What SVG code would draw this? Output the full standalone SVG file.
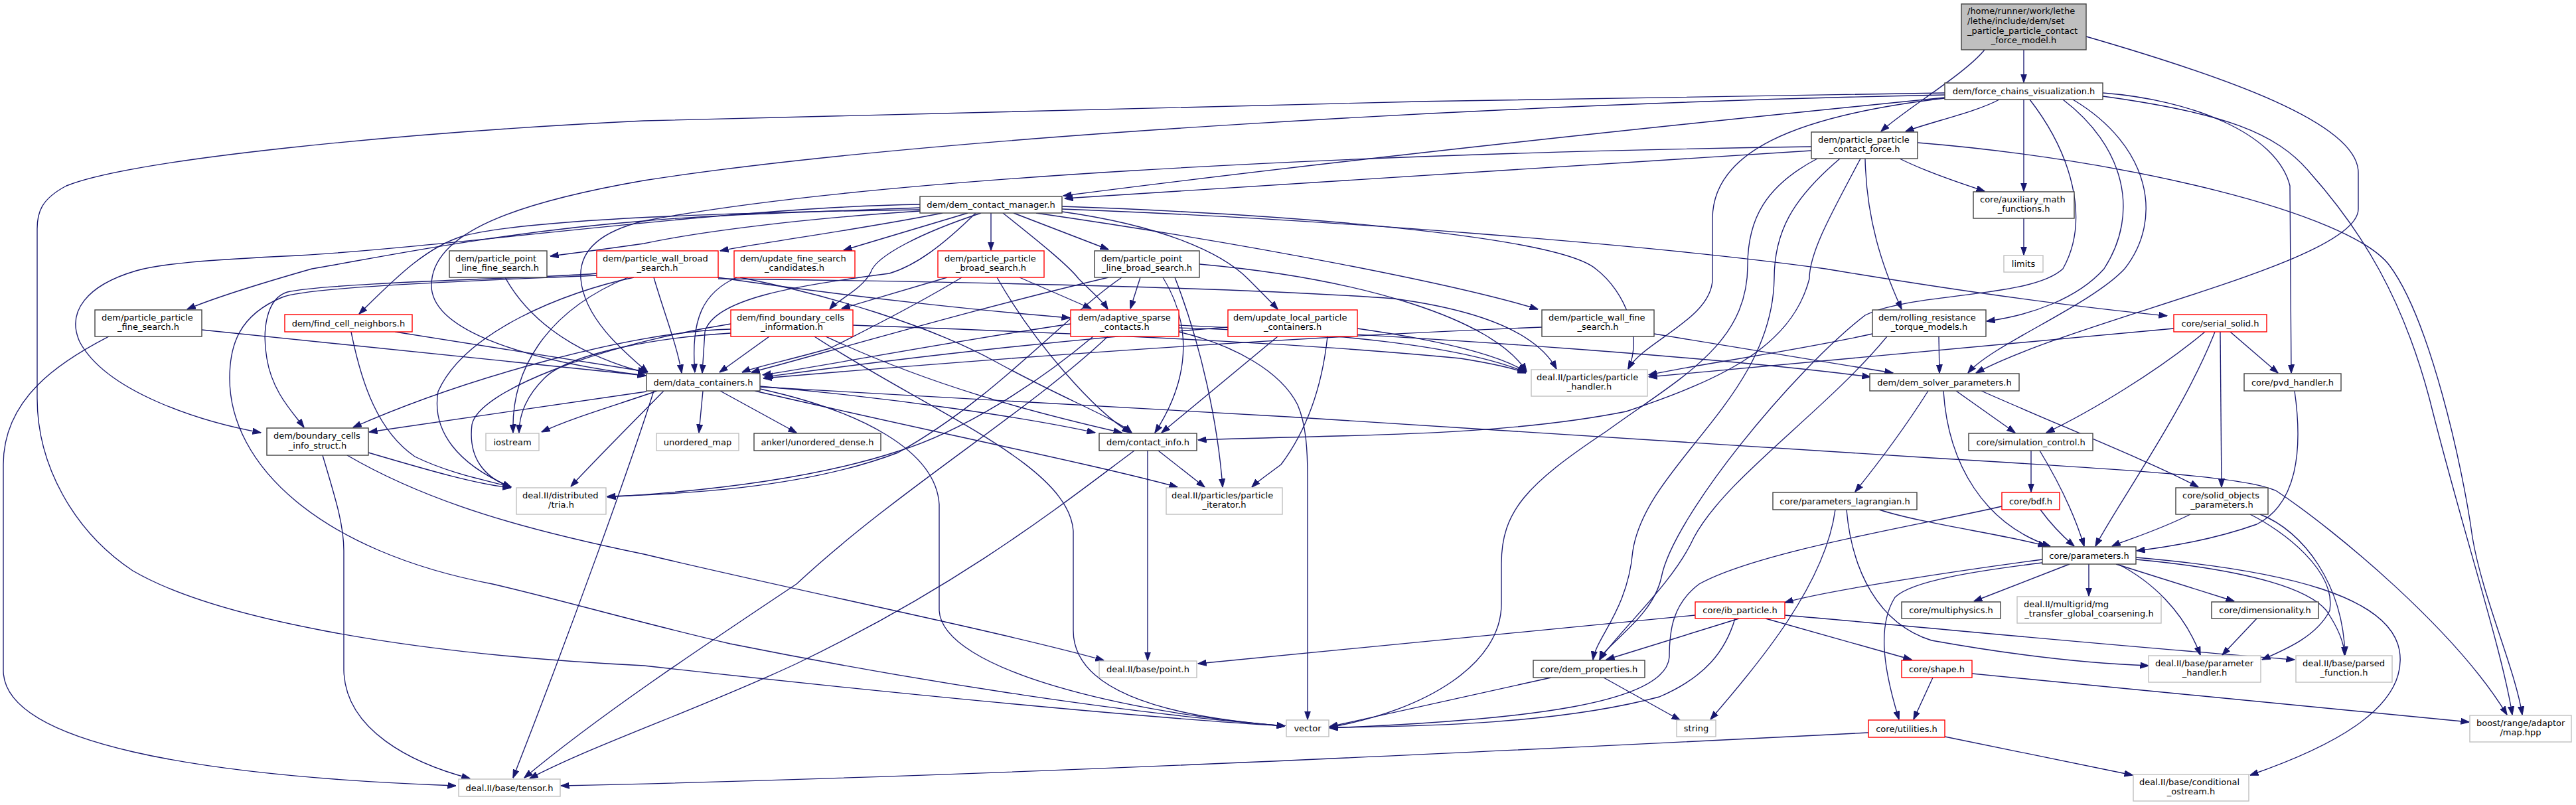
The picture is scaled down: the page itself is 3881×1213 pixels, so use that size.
<svg xmlns="http://www.w3.org/2000/svg" width="3881" height="1213" viewBox="0 0 3881 1213">
<style>
.n rect{fill:#fff;stroke:#404040;stroke-width:1.4}
.r rect{fill:#fff;stroke:#ff0000;stroke-width:1.4}
.g rect{fill:#fff;stroke:#bfbfbf;stroke-width:1.4}
text{font-family:"DejaVu Sans","Liberation Sans",sans-serif;font-size:13px;fill:#000}
.m{text-anchor:middle}
#edges path{fill:none;stroke:#191970;stroke-width:1.35;marker-end:url(#a)}
</style>
<defs>
<marker id="a" viewBox="0 0 13 10" refX="12.5" refY="5" markerWidth="13" markerHeight="10" markerUnits="userSpaceOnUse" orient="auto"><path d="M0,0.5 L13,5 L0,9.5 z" fill="#191970" stroke="#191970" stroke-width="1"/></marker>
</defs>
<rect width="3881" height="1213" fill="#fff"/>
<g id="edges">
<path d="M3049,75 L3049,124"/>
<path d="M2990,75 C2960,112 2870,165 2834,198"/>
<path d="M3143,55 C3350,115 3553,185 3553,260 L3553,315 C3553,395 3130,480 2977,562"/>
<path d="M3012,150 C2980,168 2905,185 2871,198"/>
<path d="M3049,150 L3049,288"/>
<path d="M2930,147 C2450,195 1950,250 1602,295"/>
<path d="M2930,140 C2300,148 1500,165 970,182 C600,200 200,240 100,280 C62,300 56,320 56,345 L56,600 C56,700 110,800 200,860 C320,930 600,985 970,1003 C1300,1040 1700,1080 1936,1094"/>
<path d="M2930,143 C2300,155 1400,205 970,272 C780,305 650,350 650,430 C650,500 800,545 973,566"/>
<path d="M2930,148 C2700,175 2580,230 2580,330 L2580,420 C2580,480 2475,515 2453,556"/>
<path d="M3108,150 C3200,220 3225,320 3170,405 C3130,450 3060,475 2993,484"/>
<path d="M3123,150 C3240,220 3260,330 3201,405 C3150,460 3000,520 2965,562"/>
<path d="M3058,150 C3120,230 3150,330 3108,405 C3060,450 2880,440 2810,475 C2700,560 2520,780 2503,870 C2490,930 2420,970 2410,994"/>
<path d="M3168,140 C3300,150 3430,200 3450,280 L3452,562"/>
<path d="M3168,145 C3350,170 3430,200 3480,260 C3560,350 3620,450 3660,600 C3710,800 3770,980 3785,1077"/>
<path d="M2729,227 C2300,255 1900,280 1604,299"/>
<path d="M2729,221 C2000,232 1300,270 970,333 C900,350 872,380 875,420 C880,480 940,530 976,561"/>
<path d="M2862,239 C2900,258 2950,275 2990,288"/>
<path d="M2810,239 C2812,330 2835,400 2865,466"/>
<path d="M2738,239 C2660,280 2633,330 2633,400 C2633,520 2530,570 2420,650 C2300,730 2262,770 2262,850 L2262,910 C2262,1000 2150,1070 2003,1096"/>
<path d="M2772,239 C2700,300 2673,350 2673,420 C2670,600 2480,700 2460,830 C2452,920 2405,960 2400,994"/>
<path d="M2803,239 C2760,320 2726,380 2726,420 C2700,520 2600,570 2450,620 C2250,660 2000,655 1805,663"/>
<path d="M2889,215 C3200,240 3540,320 3600,400 C3660,480 3710,700 3725,810 C3740,900 3790,1010 3800,1077"/>
<path d="M1386,318 C1200,330 1050,350 970,367 C900,377 860,382 829,386"/>
<path d="M1420,321 C1300,345 1150,365 1085,378"/>
<path d="M1458,321 L1271,377"/>
<path d="M1493,321 L1493,377"/>
<path d="M1527,321 L1670,376"/>
<path d="M1386,313 C1200,320 1050,325 970,333 C750,350 560,390 470,405 C400,425 320,450 282,466"/>
<path d="M1386,308 C1100,312 700,370 450,385 C300,392 240,398 205,408 C130,430 100,470 120,515 C160,590 300,635 393,652"/>
<path d="M1386,316 C1100,320 800,330 700,355 C640,372 590,425 541,473"/>
<path d="M1478,321 C1390,350 1320,385 1312,410 C1300,435 1262,452 1250,466"/>
<path d="M1470,321 C1420,370 1380,400 1340,412 C1200,430 1075,450 1062,500 L1058,562"/>
<path d="M1511,321 C1560,360 1610,400 1625,420 C1645,440 1660,452 1669,466"/>
<path d="M1600,319 C1750,340 1840,380 1880,420 C1900,440 1915,455 1925,466"/>
<path d="M1561,321 C1900,370 2200,430 2317,466"/>
<path d="M1600,311 C2000,325 2350,360 2404,405 C2450,440 2475,510 2453,556"/>
<path d="M1600,315 C2000,330 2500,370 2750,405 C2900,430 3100,460 3265,476"/>
<path d="M3049,329 L3049,384"/>
<path d="M761,418 C790,470 850,530 974,562"/>
<path d="M985,418 C1000,470 1020,520 1027,562"/>
<path d="M1081,418 C1300,450 1500,470 1612,479"/>
<path d="M1115,418 C1250,445 1400,490 1500,545 C1600,600 1680,630 1705,652"/>
<path d="M946,418 C820,470 770,560 773,652"/>
<path d="M899,412 C850,418 500,425 433,440 C400,450 395,500 402,540 C410,590 440,620 458,644"/>
<path d="M899,415 C800,420 470,430 425,448 C360,475 346,520 346,570 C346,700 480,830 742,880 C850,905 950,935 1100,970 C1400,1030 1700,1075 1936,1094"/>
<path d="M955,418 C850,440 700,500 660,590 C650,650 690,700 770,734"/>
<path d="M1082,420 C1500,425 1900,435 2100,450 C2250,470 2320,510 2345,556"/>
<path d="M1110,418 C1060,440 1040,480 1047,561"/>
<path d="M1427,418 L1268,465"/>
<path d="M1449,418 C1380,460 1300,500 1250,525 C1180,545 1140,552 1118,561"/>
<path d="M1536,418 L1644,465"/>
<path d="M1502,418 C1560,520 1650,620 1703,652"/>
<path d="M1718,418 L1703,465"/>
<path d="M1670,418 C1450,470 1250,530 1132,561"/>
<path d="M1752,418 C1790,480 1800,560 1740,652"/>
<path d="M1770,418 C1810,520 1835,640 1842,734"/>
<path d="M1690,418 C1600,480 1500,600 1353,682 C1200,740 1000,745 915,748"/>
<path d="M1807,398 C2050,420 2250,480 2300,560"/>
<path d="M304,497 L973,566"/>
<path d="M164,507 C90,545 5,600 5,700 L5,1010 C5,1120 300,1170 687,1184"/>
<path d="M595,500 L974,560"/>
<path d="M529,500 C545,580 570,650 625,688 C680,715 740,725 770,734"/>
<path d="M1101,496 C950,500 700,570 532,644"/>
<path d="M1101,502 C1000,508 860,530 820,570 C790,600 782,630 782,652"/>
<path d="M1101,488 C900,520 720,590 711,640 C705,690 730,720 770,734"/>
<path d="M1159,507 L1084,561"/>
<path d="M1244,507 C1400,580 1550,620 1690,652"/>
<path d="M1227,507 C1400,620 1610,700 1617,800 L1617,950 C1617,1040 1750,1080 1936,1094"/>
<path d="M1285,490 C1700,505 2000,520 2200,540 C2250,548 2280,555 2299,562"/>
<path d="M1613,488 C1400,520 1250,550 1149,565"/>
<path d="M1647,507 C1560,580 1450,650 1353,680 C1200,730 1000,744 915,749"/>
<path d="M1669,507 C1550,620 1350,740 1200,880 C1050,980 900,1080 790,1172"/>
<path d="M1776,490 C2200,510 2600,540 2818,568"/>
<path d="M1776,500 C1860,520 1930,560 1955,610 C1968,640 1970,680 1970,720 L1970,1084"/>
<path d="M1776,494 C2000,500 2200,520 2299,561"/>
<path d="M1850,493 C1500,520 1250,555 1152,568"/>
<path d="M1925,507 L1750,652"/>
<path d="M2045,495 C2150,510 2250,530 2299,560"/>
<path d="M2000,507 C1990,600 1960,660 1930,700 C1910,715 1895,725 1886,734"/>
<path d="M2323,493 C1900,510 1500,540 1150,570"/>
<path d="M2492,503 C2650,530 2780,550 2852,562"/>
<path d="M2921,507 L2922,562"/>
<path d="M2821,503 C2700,530 2550,550 2484,565"/>
<path d="M2843,507 C2750,620 2600,720 2552,810 C2520,880 2440,950 2410,994"/>
<path d="M3275,495 C3100,510 2800,540 2484,568"/>
<path d="M3322,500 C3250,560 3150,620 3083,652"/>
<path d="M3360,500 L3432,562"/>
<path d="M3345,500 L3347,734"/>
<path d="M3337,500 C3290,620 3190,760 3157,823"/>
<path d="M974,590 L556,651"/>
<path d="M990,589 C930,610 860,630 816,651"/>
<path d="M1059,589 L1053,652"/>
<path d="M1085,589 L1200,652"/>
<path d="M1145,582 C1350,600 1550,630 1650,652"/>
<path d="M1000,589 C950,640 900,690 860,733"/>
<path d="M985,589 C950,700 860,950 773,1172"/>
<path d="M1137,589 C1400,650 1650,700 1774,734"/>
<path d="M1145,586 C1300,620 1410,680 1415,760 L1415,920 C1420,1010 1700,1075 1936,1094"/>
<path d="M1145,583 L1940,628 L2910,690 C3250,710 3390,720 3430,740 C3520,800 3700,950 3777,1077"/>
<path d="M555,682 C650,710 720,730 770,735"/>
<path d="M486,686 C505,750 518,790 518,830 L518,1010 C520,1100 620,1150 708,1173"/>
<path d="M523,686 C650,760 800,800 970,835 C1200,890 1500,950 1663,995"/>
<path d="M1709,679 C1600,760 1450,880 1200,1000 C1050,1070 900,1120 798,1173"/>
<path d="M1729,679 L1729,995"/>
<path d="M1745,679 L1815,734"/>
<path d="M3060,679 L3060,741"/>
<path d="M3073,679 C3110,740 3130,790 3140,823"/>
<path d="M2947,589 L3036,652"/>
<path d="M2985,589 C3100,640 3250,700 3312,734"/>
<path d="M2905,589 C2860,660 2820,710 2795,741"/>
<path d="M2928,589 C2935,700 2990,790 3089,823"/>
<path d="M3074,768 C3090,790 3110,810 3125,823"/>
<path d="M3016,763 C2900,790 2650,830 2560,880 C2520,910 2515,950 2515,990 C2510,1060 2300,1085 2003,1097"/>
<path d="M2765,768 C2750,880 2650,1000 2577,1084"/>
<path d="M2782,768 C2790,860 2830,940 2910,965 C3050,990 3150,1000 3237,1003"/>
<path d="M2831,768 C2900,790 3020,805 3083,823"/>
<path d="M3300,775 C3250,800 3200,815 3182,823"/>
<path d="M3390,775 C3440,800 3520,860 3510,920 C3490,960 3440,980 3408,994"/>
<path d="M3405,775 C3470,800 3530,880 3533,987"/>
<path d="M3457,589 C3470,680 3460,760 3400,790 C3330,815 3260,825 3219,830"/>
<path d="M3077,843 C2950,860 2750,890 2689,908"/>
<path d="M3077,848 C2980,860 2880,875 2855,900 C2830,940 2835,1000 2861,1084"/>
<path d="M3118,850 L2974,906"/>
<path d="M3147,850 L3147,898"/>
<path d="M3188,850 L3366,906"/>
<path d="M3191,850 C3240,875 3290,920 3315,987"/>
<path d="M3218,843 C3400,860 3480,890 3505,920 C3525,950 3532,970 3532,987"/>
<path d="M3218,840 C3450,860 3600,900 3615,980 C3630,1070 3500,1130 3390,1168"/>
<path d="M2620,932 L2420,994"/>
<path d="M2614,932 C2600,980 2570,1020 2500,1050 C2350,1090 2150,1095 2003,1096"/>
<path d="M2660,932 L2880,994"/>
<path d="M2554,927 L1805,1000"/>
<path d="M2689,927 C2900,945 3200,975 3457,994"/>
<path d="M3400,932 L3348,987"/>
<path d="M2337,1021 L2003,1095"/>
<path d="M2416,1021 L2531,1085"/>
<path d="M2912,1021 L2883,1084"/>
<path d="M2971,1015 L3720,1088"/>
<path d="M2815,1104 C2300,1130 1500,1170 845,1184"/>
<path d="M2930,1110 L3213,1168"/>
</g>
<g id="node-root" class="n"><rect x="2955" y="6" width="188" height="69" style="fill:#bfbfbf"/><text x="2964" y="21">/home/runner/work/lethe</text><text x="2964" y="36">/lethe/include/dem/set</text><text x="2964" y="50.5">_particle_particle_contact</text><text class="m" x="3049" y="65">_force_model.h</text></g>
<g id="node-fcv" class="n"><rect x="2930" y="125" width="238" height="25"/><text class="m" x="3049" y="142">dem/force_chains_visualization.h</text></g>
<g id="node-ppcf" class="n"><rect x="2729" y="199" width="160" height="40"/><text x="2739" y="214.5">dem/particle_particle</text><text class="m" x="2809" y="229">_contact_force.h</text></g>
<g id="node-dcm" class="n"><rect x="1386" y="296" width="214" height="25"/><text class="m" x="1493" y="313">dem/dem_contact_manager.h</text></g>
<g id="node-aux" class="n"><rect x="2973" y="289" width="152" height="40"/><text x="2983" y="304.5">core/auxiliary_math</text><text class="m" x="3049" y="319">_functions.h</text></g>
<g id="node-limits" class="g"><rect x="3019" y="385" width="59" height="25"/><text class="m" x="3048.5" y="402">limits</text></g>
<g id="node-pplfs" class="n"><rect x="677" y="378" width="147" height="40"/><text x="686" y="393.5">dem/particle_point</text><text class="m" x="750.5" y="408">_line_fine_search.h</text></g>
<g id="node-pwbs" class="r"><rect x="899" y="378" width="183" height="40"/><text x="908" y="393.5">dem/particle_wall_broad</text><text class="m" x="990.5" y="408">_search.h</text></g>
<g id="node-ufsc" class="r"><rect x="1106" y="378" width="182" height="40"/><text x="1115" y="393.5">dem/update_fine_search</text><text class="m" x="1197" y="408">_candidates.h</text></g>
<g id="node-ppbs" class="r"><rect x="1413" y="378" width="160" height="40"/><text x="1423" y="393.5">dem/particle_particle</text><text class="m" x="1493" y="408">_broad_search.h</text></g>
<g id="node-pplbs" class="n"><rect x="1649" y="378" width="158" height="40"/><text x="1659" y="393.5">dem/particle_point</text><text class="m" x="1728" y="408">_line_broad_search.h</text></g>
<g id="node-ppfs" class="n"><rect x="143" y="467" width="161" height="40"/><text x="153" y="482.5">dem/particle_particle</text><text class="m" x="223.5" y="497">_fine_search.h</text></g>
<g id="node-fcn" class="r"><rect x="429" y="474" width="192" height="26"/><text class="m" x="525" y="491.5">dem/find_cell_neighbors.h</text></g>
<g id="node-fbci" class="r"><rect x="1101" y="467" width="184" height="40"/><text x="1110" y="482.5">dem/find_boundary_cells</text><text class="m" x="1193" y="497">_information.h</text></g>
<g id="node-asc" class="r"><rect x="1613" y="467" width="163" height="40"/><text x="1624" y="482.5">dem/adaptive_sparse</text><text class="m" x="1694.5" y="497">_contacts.h</text></g>
<g id="node-ulpc" class="r"><rect x="1850" y="467" width="195" height="40"/><text x="1858" y="482.5">dem/update_local_particle</text><text class="m" x="1947.5" y="497">_containers.h</text></g>
<g id="node-pwfs" class="n"><rect x="2323" y="467" width="169" height="40"/><text x="2333" y="482.5">dem/particle_wall_fine</text><text class="m" x="2407.5" y="497">_search.h</text></g>
<g id="node-rrtm" class="n"><rect x="2821" y="467" width="171" height="40"/><text x="2830" y="482.5">dem/rolling_resistance</text><text class="m" x="2906.5" y="497">_torque_models.h</text></g>
<g id="node-ss" class="r"><rect x="3275" y="474" width="140" height="26"/><text class="m" x="3345" y="491.5">core/serial_solid.h</text></g>
<g id="node-dc" class="n"><rect x="974" y="563" width="171" height="26"/><text class="m" x="1059.5" y="580.5">dem/data_containers.h</text></g>
<g id="node-ph" class="g"><rect x="2307" y="557" width="175" height="40"/><text x="2315" y="572.5">deal.II/particles/particle</text><text class="m" x="2394.5" y="587">_handler.h</text></g>
<g id="node-dsp" class="n"><rect x="2817" y="563" width="225" height="26"/><text class="m" x="2929.5" y="580.5">dem/dem_solver_parameters.h</text></g>
<g id="node-pvd" class="n"><rect x="3381" y="563" width="146" height="26"/><text class="m" x="3454" y="580.5">core/pvd_handler.h</text></g>
<g id="node-bcis" class="n"><rect x="402" y="645" width="153" height="41"/><text x="412" y="661">dem/boundary_cells</text><text class="m" x="478.5" y="675.5">_info_struct.h</text></g>
<g id="node-iostream" class="g"><rect x="732" y="653" width="80" height="26"/><text class="m" x="772" y="670.5">iostream</text></g>
<g id="node-umap" class="g"><rect x="989" y="653" width="124" height="26"/><text class="m" x="1051" y="670.5">unordered_map</text></g>
<g id="node-ankerl" class="n"><rect x="1136" y="653" width="191" height="26"/><text class="m" x="1231.5" y="670.5">ankerl/unordered_dense.h</text></g>
<g id="node-ci" class="n"><rect x="1656" y="653" width="147" height="26"/><text class="m" x="1729.5" y="670.5">dem/contact_info.h</text></g>
<g id="node-sc" class="n"><rect x="2966" y="653" width="187" height="26"/><text class="m" x="3059.5" y="670.5">core/simulation_control.h</text></g>
<g id="node-tria" class="g"><rect x="778" y="735" width="135" height="40"/><text x="787" y="750.5">deal.II/distributed</text><text class="m" x="845.5" y="765">/tria.h</text></g>
<g id="node-pit" class="g"><rect x="1757" y="735" width="175" height="40"/><text x="1765" y="750.5">deal.II/particles/particle</text><text class="m" x="1844.5" y="765">_iterator.h</text></g>
<g id="node-pl" class="n"><rect x="2671" y="742" width="217" height="26"/><text class="m" x="2779.5" y="759.5">core/parameters_lagrangian.h</text></g>
<g id="node-bdf" class="r"><rect x="3016" y="742" width="87" height="26"/><text class="m" x="3059.5" y="759.5">core/bdf.h</text></g>
<g id="node-sop" class="n"><rect x="3278" y="735" width="139" height="40"/><text x="3288" y="750.5">core/solid_objects</text><text class="m" x="3347.5" y="765">_parameters.h</text></g>
<g id="node-par" class="n"><rect x="3077" y="824" width="141" height="26"/><text class="m" x="3147.5" y="841.5">core/parameters.h</text></g>
<g id="node-ibp" class="r"><rect x="2554" y="907" width="135" height="25"/><text class="m" x="2621.5" y="924">core/ib_particle.h</text></g>
<g id="node-mp" class="n"><rect x="2865" y="907" width="149" height="25"/><text class="m" x="2939.5" y="924">core/multiphysics.h</text></g>
<g id="node-mg" class="g"><rect x="3039" y="899" width="217" height="40"/><text x="3049" y="914.5">deal.II/multigrid/mg</text><text class="m" x="3147.5" y="929">_transfer_global_coarsening.h</text></g>
<g id="node-dim" class="n"><rect x="3332" y="907" width="161" height="25"/><text class="m" x="3412.5" y="924">core/dimensionality.h</text></g>
<g id="node-point" class="g"><rect x="1656" y="996" width="147" height="25"/><text class="m" x="1729.5" y="1013">deal.II/base/point.h</text></g>
<g id="node-dp" class="n"><rect x="2310" y="995" width="168" height="26"/><text class="m" x="2394" y="1012.5">core/dem_properties.h</text></g>
<g id="node-shape" class="r"><rect x="2865" y="995" width="106" height="26"/><text class="m" x="2918" y="1012.5">core/shape.h</text></g>
<g id="node-phd" class="g"><rect x="3237" y="988" width="169" height="40"/><text x="3247" y="1003.5">deal.II/base/parameter</text><text class="m" x="3321.5" y="1018">_handler.h</text></g>
<g id="node-pf" class="g"><rect x="3459" y="988" width="145" height="40"/><text x="3469" y="1003.5">deal.II/base/parsed</text><text class="m" x="3531.5" y="1018">_function.h</text></g>
<g id="node-vector" class="g"><rect x="1938" y="1085" width="64" height="25"/><text class="m" x="1970" y="1102">vector</text></g>
<g id="node-string" class="g"><rect x="2526" y="1085" width="59" height="25"/><text class="m" x="2555.5" y="1102">string</text></g>
<g id="node-ut" class="r"><rect x="2815" y="1085" width="115" height="26"/><text class="m" x="2872.5" y="1102.5">core/utilities.h</text></g>
<g id="node-map" class="g"><rect x="3721" y="1078" width="153" height="40"/><text x="3731" y="1093.5">boost/range/adaptor</text><text class="m" x="3797.5" y="1108">/map.hpp</text></g>
<g id="node-tensor" class="g"><rect x="691" y="1174" width="153" height="26"/><text class="m" x="767.5" y="1191.5">deal.II/base/tensor.h</text></g>
<g id="node-co" class="g"><rect x="3214" y="1167" width="174" height="40"/><text x="3223" y="1182.5">deal.II/base/conditional</text><text class="m" x="3301" y="1197">_ostream.h</text></g>
</svg>
